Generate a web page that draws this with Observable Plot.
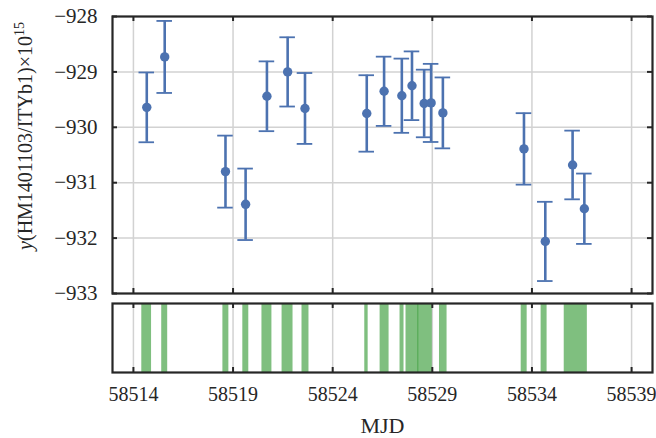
<!DOCTYPE html>
<html>
<head>
<meta charset="utf-8">
<script src="https://cdn.jsdelivr.net/npm/d3@7"></script>
<script src="https://cdn.jsdelivr.net/npm/@observablehq/plot@0.6"></script>
<style>
  html, body { margin: 0; padding: 0; background: #fff; }
  #chart { width: 656px; height: 438px; position: relative; }
  #chart svg { display: block; }
</style>
</head>
<body>
<div id="chart"></div>
<script>
// ---- data ----
const mjd = [58514.67, 58515.57, 58518.62, 58519.63, 58520.70, 58521.74, 58522.61,
             58525.71, 58526.58, 58527.47, 58527.98, 58528.59, 58528.94, 58529.53,
             58533.60, 58534.67, 58536.04, 58536.63];
const yVal = [-929.64, -928.73, -930.80, -931.39, -929.44, -929.00, -929.66,
              -929.75, -929.35, -929.43, -929.25, -929.57, -929.56, -929.74,
              -930.39, -932.06, -930.68, -931.47];
const yErr = [0.63, 0.65, 0.65, 0.645, 0.63, 0.625, 0.64,
              0.69, 0.625, 0.67, 0.62, 0.61, 0.705, 0.64,
              0.645, 0.715, 0.62, 0.635];
const spanStart = [58514.42, 58515.42, 58518.49, 58519.49, 58520.45, 58521.46, 58522.46,
                   58525.61, 58526.38, 58527.38, 58527.68, 58528.28, 58529.36,
                   58533.46, 58534.46, 58535.62];
const spanEnd   = [58514.91, 58515.72, 58518.79, 58519.79, 58520.95, 58522.01, 58522.81,
                   58525.78, 58526.83, 58527.58, 58528.32, 58529.00, 58529.74,
                   58533.76, 58534.76, 58536.78];
const xTicks = [58514, 58519, 58524, 58529, 58534, 58539];
const yTicks = [-933, -932, -931, -930, -929, -928];
const xDomain = [58512.95, 58540.05];
const yDomain = [-933, -928];
const yLabelMain = "(HM1401103/ITYb1)×10";
const yLabelVar = "y";
const yLabelExp = "15";
const xLabel = "MJD";

const points = mjd.map((m, i) => ({mjd: m, y: yVal[i], err: yErr[i]}));
const spans = spanStart.map((s, i) => ({start: s, end: spanEnd[i]}));

const blue = "#4c72b0";
const dark = "#262626";
const grid = "#d2d2d2";
const font = "'Liberation Serif', 'Times New Roman', serif";
const capHalf = 0.39;

const W = 656;
const mL = 112, mR = 4;
const innerW = W - mL - mR;

// ---- top panel ----
const topH = 300, topMT = 16, topMB = 7;
const topInnerH = topH - topMT - topMB;
const topPlot = Plot.plot({
  width: W, height: topH,
  marginLeft: mL, marginRight: mR, marginTop: topMT, marginBottom: topMB,
  x: {domain: xDomain, axis: null},
  y: {domain: yDomain},
  style: {fontFamily: font, fontSize: "21px", color: dark, background: "#fff", overflow: "visible"},
  marks: [
    Plot.gridX(xTicks, {stroke: grid, strokeOpacity: 1, strokeWidth: 1.5}),
    Plot.gridY(yTicks, {stroke: grid, strokeOpacity: 1, strokeWidth: 1.5}),
    Plot.ruleX(points, {x: "mjd", y1: d => d.y - d.err, y2: d => d.y + d.err, stroke: blue, strokeWidth: 2.6}),
    Plot.ruleY(points, {y: d => d.y + d.err, x1: d => d.mjd - capHalf, x2: d => d.mjd + capHalf, stroke: blue, strokeWidth: 1.8}),
    Plot.ruleY(points, {y: d => d.y - d.err, x1: d => d.mjd - capHalf, x2: d => d.mjd + capHalf, stroke: blue, strokeWidth: 1.8}),
    Plot.dot(points, {x: "mjd", y: "y", r: 4.7, fill: blue, stroke: "none"}),
    Plot.tickX(xTicks, {x: d => d, insetTop: topInnerH - 5, stroke: dark, strokeWidth: 2}),
    Plot.tickX(xTicks, {x: d => d, insetBottom: topInnerH - 5, stroke: dark, strokeWidth: 2}),
    Plot.tickY(yTicks, {y: d => d, insetRight: innerW - 5, stroke: dark, strokeWidth: 2}),
    Plot.tickY(yTicks, {y: d => d, insetLeft: innerW - 5, stroke: dark, strokeWidth: 2}),
    Plot.frame({stroke: dark, strokeWidth: 2.2}),
    Plot.axisY(yTicks, {tickSize: 0, tickPadding: 15, tickFormat: d3.format("d"), label: null, fontSize: 21})
  ]
});

// y label with italic y and superscript
const lab = d3.select(topPlot).append("text")
  .attr("transform", "translate(32,136) rotate(-90)")
  .attr("text-anchor", "middle")
  .attr("font-family", font)
  .attr("font-size", 20)
  .attr("fill", dark);
lab.append("tspan").attr("font-style", "italic").text(yLabelVar);
lab.append("tspan").text(yLabelMain);
lab.append("tspan").attr("font-size", 14).attr("dy", -8).text(yLabelExp);

// ---- bottom panel ----
const botH = 138, botMT = 3, botMB = 66;
const botInnerH = botH - botMT - botMB;
const botPlot = Plot.plot({
  width: W, height: botH,
  marginLeft: mL, marginRight: mR, marginTop: botMT, marginBottom: botMB,
  x: {domain: xDomain},
  y: {domain: [0, 1], axis: null},
  style: {fontFamily: font, fontSize: "20px", color: dark, background: "#fff", overflow: "visible"},
  marks: [
    Plot.gridX(xTicks, {stroke: grid, strokeOpacity: 1, strokeWidth: 1.5}),
    Plot.rect(spans, {x1: "start", x2: "end", fill: "green", fillOpacity: 0.5}),
    Plot.tickX(xTicks, {x: d => d, insetTop: botInnerH - 5, stroke: dark, strokeWidth: 2}),
    Plot.tickX(xTicks, {x: d => d, insetBottom: botInnerH - 5, stroke: dark, strokeWidth: 2}),
    Plot.frame({stroke: dark, strokeWidth: 2.2}),
    Plot.axisX(xTicks, {tickSize: 0, tickPadding: 14, tickFormat: d3.format("d"), label: null, fontSize: 20}),
    Plot.text([xLabel], {frameAnchor: "bottom", text: d => d, dy: 60, fontSize: 22, fill: dark})
  ]
});

const chart = document.getElementById("chart");
chart.appendChild(topPlot);
chart.appendChild(botPlot);
</script>
</body>
</html>
